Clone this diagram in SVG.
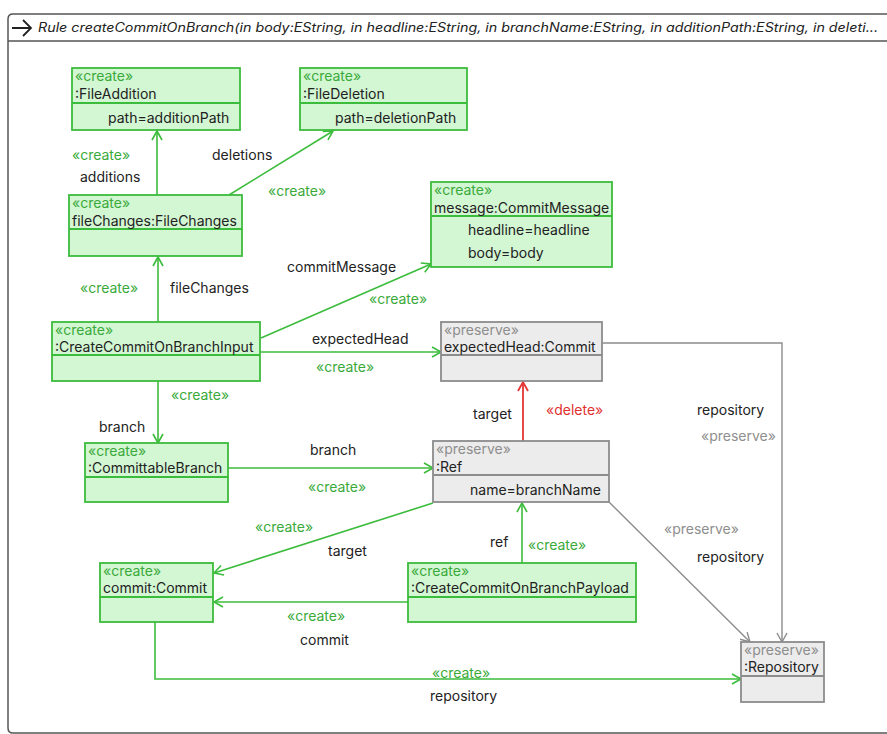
<svg xmlns="http://www.w3.org/2000/svg" width="887" height="734" viewBox="0 0 887 734">
<defs>
<style>
text{font-family:Inter,"Liberation Sans",sans-serif;font-size:14px;fill:#222}
.st{fill:#3aaa3a}
.pr{fill:#8e8e8e}
.del{fill:#e03030}
.gn rect,.gn line{stroke:#3cbc3c;stroke-width:1.8}
.gn rect{fill:#d3f6d3}
.gy rect,.gy line{stroke:#8c8c8c;stroke-width:1.8}
.gy rect{fill:#ececec}
.eg{stroke:#3cbc3c;stroke-width:1.6;fill:none;marker-end:url(#ag)}
.ey{stroke:#8c8c8c;stroke-width:1.4;fill:none;marker-end:url(#ay)}
.er{stroke:#e53535;stroke-width:1.8;fill:none;marker-end:url(#ar)}
.title{font-style:italic;font-size:12.5px}
</style>
<marker id="ag" markerUnits="userSpaceOnUse" markerWidth="12" markerHeight="12" refX="10" refY="6" orient="auto"><path d="M1,1 L10,6 L1,11" fill="none" stroke="#3cbc3c" stroke-width="1.6"/></marker>
<marker id="ay" markerUnits="userSpaceOnUse" markerWidth="12" markerHeight="12" refX="10" refY="6" orient="auto"><path d="M1,1 L10,6 L1,11" fill="none" stroke="#8c8c8c" stroke-width="1.4"/></marker>
<marker id="ar" markerUnits="userSpaceOnUse" markerWidth="12" markerHeight="12" refX="10" refY="6" orient="auto"><path d="M1,1 L10,6 L1,11" fill="none" stroke="#e53535" stroke-width="1.8"/></marker>
</defs>
<rect width="887" height="734" fill="#fff"/>
<g id="frame">
<path d="M890,14 H13 Q8,14 8,19 V728 Q8,733 13,733 H890" fill="none" stroke="#555" stroke-width="1.5"/>
<line x1="8" y1="41" x2="890" y2="41" stroke="#555" stroke-width="1.5"/>
<path d="M12,28 H31 M23,20 L31,28 L23,36" fill="none" stroke="#222" stroke-width="1.8"/>
<text class="title" x="38" y="32" textLength="840" lengthAdjust="spacingAndGlyphs">Rule createCommitOnBranch(in body:EString, in headline:EString, in branchName:EString, in additionPath:EString, in deleti...</text>
</g>
<g id="connectors">
<path class="eg" d="M157,195 V131"/>
<path class="eg" d="M229,195 L333,131"/>
<path class="eg" d="M158,322 V257"/>
<path class="eg" d="M261,338 L431,264"/>
<path class="eg" d="M260,352 H441"/>
<path class="eg" d="M158,381 V443"/>
<path class="eg" d="M228,468 H433"/>
<path class="eg" d="M433,503 L214,573"/>
<path class="eg" d="M522,563 V503"/>
<path class="eg" d="M408,602 H214"/>
<path class="eg" d="M155,622 V679 H741"/>
<path class="er" d="M523,441 V382"/>
<path class="ey" d="M609,502 L750,642"/>
<path class="ey" d="M602,343 H782 V642"/>
<text class="st" x="72" y="160">«create»</text>
<text x="80" y="182">additions</text>
<text x="212" y="160">deletions</text>
<text class="st" x="268" y="196">«create»</text>
<text class="st" x="80" y="293">«create»</text>
<text x="170" y="293">fileChanges</text>
<text x="287" y="272">commitMessage</text>
<text class="st" x="369" y="304">«create»</text>
<text x="312" y="344">expectedHead</text>
<text class="st" x="316" y="372">«create»</text>
<text class="st" x="171" y="400">«create»</text>
<text x="99" y="432">branch</text>
<text x="310" y="455">branch</text>
<text class="st" x="308" y="492">«create»</text>
<text x="473" y="419">target</text>
<text class="del" x="546" y="415">«delete»</text>
<text x="697" y="415">repository</text>
<text class="pr" x="701" y="441">«preserve»</text>
<text class="pr" x="664" y="534">«preserve»</text>
<text x="697" y="562">repository</text>
<text class="st" x="255" y="532">«create»</text>
<text x="328" y="556">target</text>
<text x="490" y="547">ref</text>
<text class="st" x="528" y="550">«create»</text>
<text class="st" x="287" y="621">«create»</text>
<text x="300" y="645">commit</text>
<text class="st" x="432" y="678">«create»</text>
<text x="430" y="701">repository</text>
</g>
<g id="fileAddition" class="gn">
<rect x="72" y="68" width="168" height="62"/><line x1="72" y1="103" x2="240" y2="103"/>
<text class="st" x="75" y="81">«create»</text><text x="75" y="99">:FileAddition</text>
<text x="108" y="123">path=additionPath</text>
</g>
<g id="fileDeletion" class="gn">
<rect x="300" y="68" width="167" height="62"/><line x1="300" y1="103" x2="467" y2="103"/>
<text class="st" x="303" y="81">«create»</text><text x="303" y="99">:FileDeletion</text>
<text x="335" y="123">path=deletionPath</text>
</g>
<g id="fileChanges" class="gn">
<rect x="69" y="195" width="173" height="61"/><line x1="69" y1="229" x2="242" y2="229"/>
<text class="st" x="72" y="208">«create»</text><text x="72" y="226">fileChanges:FileChanges</text>
</g>
<g id="commitMessage" class="gn">
<rect x="431" y="182" width="181" height="85"/><line x1="431" y1="216" x2="612" y2="216"/>
<text class="st" x="434" y="195">«create»</text><text x="434" y="213">message:CommitMessage</text>
<text x="468" y="235">headline=headline</text>
<text x="468" y="258">body=body</text>
</g>
<g id="input" class="gn">
<rect x="52" y="322" width="208" height="59"/><line x1="52" y1="355" x2="260" y2="355"/>
<text class="st" x="55" y="335">«create»</text><text x="55" y="352">:CreateCommitOnBranchInput</text>
</g>
<g id="expectedHead" class="gy">
<rect x="441" y="322" width="161" height="59"/><line x1="441" y1="355" x2="602" y2="355"/>
<text class="pr" x="444" y="335">«preserve»</text><text x="444" y="352">expectedHead:Commit</text>
</g>
<g id="committableBranch" class="gn">
<rect x="85" y="443" width="143" height="59"/><line x1="85" y1="477" x2="228" y2="477"/>
<text class="st" x="88" y="456">«create»</text><text x="88" y="473">:CommittableBranch</text>
</g>
<g id="ref" class="gy">
<rect x="433" y="441" width="176" height="61"/><line x1="433" y1="475" x2="609" y2="475"/>
<text class="pr" x="436" y="454">«preserve»</text><text x="436" y="472">:Ref</text>
<text x="470" y="495">name=branchName</text>
</g>
<g id="commit" class="gn">
<rect x="100" y="563" width="113" height="59"/><line x1="100" y1="597" x2="213" y2="597"/>
<text class="st" x="103" y="576">«create»</text><text x="103" y="593">commit:Commit</text>
</g>
<g id="payload" class="gn">
<rect x="408" y="563" width="228" height="59"/><line x1="408" y1="597" x2="636" y2="597"/>
<text class="st" x="411" y="576">«create»</text><text x="411" y="593">:CreateCommitOnBranchPayload</text>
</g>
<g id="repository" class="gy">
<rect x="741" y="642" width="83" height="60"/><line x1="741" y1="676" x2="824" y2="676"/>
<text class="pr" x="744" y="655">«preserve»</text><text x="744" y="672">:Repository</text>
</g>
</svg>
